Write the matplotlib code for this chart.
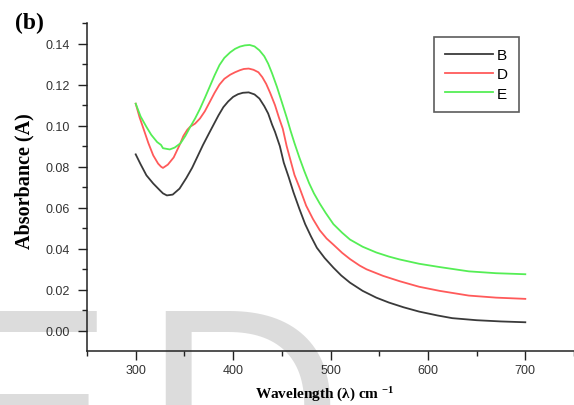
import matplotlib
matplotlib.use('Agg')
import matplotlib.pyplot as plt
from matplotlib.ticker import MultipleLocator

# UV-vis spectra, wavelength in nm
wl_B = [300, 305, 311, 318, 325, 328, 332, 338, 345, 352, 358, 363, 369, 375, 380,
        385, 390, 395, 400, 405, 410, 416, 422, 427, 432, 436, 440, 443, 448, 452,
        457, 462, 468, 474, 480, 486, 494, 503, 511, 520, 533, 547, 560, 575, 591,
        610, 625, 650, 675, 700]
abs_B = [0.0860, 0.0812, 0.0758, 0.0718, 0.0684, 0.0670, 0.0660, 0.0664, 0.0693, 0.0745,
         0.0795, 0.0845, 0.0905, 0.0960, 0.1005, 0.1050, 0.1090, 0.1118, 0.1140, 0.1153,
         0.1160, 0.1162, 0.1152, 0.1132, 0.1095, 0.1059, 0.1005, 0.0970, 0.0900, 0.0820,
         0.0750, 0.0675, 0.0595, 0.0520, 0.0460, 0.0405, 0.0355, 0.0308, 0.0270, 0.0235,
         0.0195, 0.0162, 0.0138, 0.0115, 0.0094, 0.0075, 0.0062, 0.0052, 0.0046, 0.0042]

wl_D = [300, 304, 308, 313, 318, 323, 326, 328, 333, 339, 345, 349, 353, 356, 361,
        366, 371, 376, 381, 386, 391, 397, 402, 407, 411, 416, 421, 426, 430, 434,
        438, 443, 447, 451, 455, 459, 463, 468, 475, 482, 489, 496, 503, 512, 520,
        530, 537, 554, 571, 591, 612, 642, 670, 700]
abs_D = [0.1107, 0.1040, 0.0985, 0.0915, 0.0855, 0.0815, 0.0800, 0.0794, 0.0810, 0.0845,
         0.0905, 0.0950, 0.0980, 0.0995, 0.1010, 0.1035, 0.1070, 0.1115, 0.1160, 0.1200,
         0.1228, 0.1248, 0.1260, 0.1270, 0.1276, 0.1278, 0.1272, 0.1260, 0.1236, 0.1203,
         0.1160, 0.1100, 0.1040, 0.0985, 0.0900, 0.0830, 0.0760, 0.0700, 0.0610, 0.0545,
         0.0490, 0.0450, 0.0420, 0.0380, 0.0350, 0.0318, 0.0300, 0.0268, 0.0242, 0.0215,
         0.0195, 0.0172, 0.0162, 0.0156]

wl_E = [300, 305, 311, 316, 322, 326, 328, 335, 340, 346, 351, 356, 361, 366, 371,
        376, 381, 386, 391, 397, 402, 407, 412, 417, 422, 427, 432, 436, 440, 445,
        450, 455, 459, 463, 468, 473, 478, 483, 489, 495, 503, 512, 520, 533, 547,
        560, 571, 591, 612, 642, 670, 700]
abs_E = [0.1107, 0.1045, 0.0994, 0.0955, 0.0920, 0.0906, 0.0890, 0.0884, 0.0893, 0.0914,
         0.0950, 0.0994, 0.1035, 0.1082, 0.1135, 0.1190, 0.1245, 0.1295, 0.1330, 0.1357,
         0.1374, 0.1385, 0.1391, 0.1393, 0.1386, 0.1367, 0.1338, 0.1302, 0.1255, 0.1189,
         0.1115, 0.1040, 0.0975, 0.0915, 0.0845, 0.0780, 0.0720, 0.0670, 0.0620, 0.0575,
         0.0520, 0.0478, 0.0445, 0.0410, 0.0382, 0.0362, 0.0348, 0.0327, 0.0311, 0.0290,
         0.0281, 0.0276]

plt.rcParams['mathtext.fontset'] = 'custom'
plt.rcParams['mathtext.rm'] = 'Liberation Serif:bold'
plt.rcParams['mathtext.it'] = 'Liberation Serif:bold'
plt.rcParams['mathtext.bf'] = 'Liberation Serif:bold'

fig = plt.figure(figsize=(5.74, 4.06), dpi=100)
fig.patch.set_facecolor('white')

# faint watermark letters behind the plot
wm_y = 1 - 503 / 406
fig.text(-72 / 574, wm_y, 'E', fontsize=200, family='Liberation Sans',
         color='#dcdcdc', ha='left', va='baseline', zorder=-5)
fig.text(142 / 574, wm_y, 'D', fontsize=200, family='Liberation Sans',
         color='#dcdcdc', ha='left', va='baseline', zorder=-5)

ax = fig.add_axes([87 / 574, 1 - 352 / 406, 487 / 574, 328 / 406])
ax.set_facecolor('none')

ax.plot(wl_B, abs_B, color='#3a3a3a', lw=1.3, label='B')
ax.plot(wl_D, abs_D, color='#ff5a5a', lw=1.3, label='D')
ax.plot(wl_E, abs_E, color='#55ee55', lw=1.3, label='E')

ax.set_xlim(250, 750)
ax.set_ylim(-0.0098, 0.150)
ax.xaxis.set_major_locator(MultipleLocator(100))
ax.xaxis.set_minor_locator(MultipleLocator(50))
ax.yaxis.set_major_locator(MultipleLocator(0.02))
ax.yaxis.set_minor_locator(MultipleLocator(0.01))
ax.yaxis.set_major_formatter(plt.FormatStrFormatter('%.2f'))

for s in ['top', 'right']:
    ax.spines[s].set_visible(False)
for s in ['left', 'bottom']:
    ax.spines[s].set_linewidth(1.1)
    ax.spines[s].set_color('#222222')

ax.tick_params(which='major', direction='out', length=6.3, width=1.0, color='#222222',
               labelsize=9, labelcolor='#333333')
ax.tick_params(which='minor', direction='out', length=3.6, width=1.0, color='#222222')
ax.tick_params(axis='y', which='major', pad=6)
ax.tick_params(axis='x', which='major', pad=3)
for lab in ax.get_xticklabels() + ax.get_yticklabels():
    lab.set_family('Liberation Sans')

ax.set_ylabel('Absorbance (A)', family='Liberation Serif', fontweight='bold', fontsize=14.5)
ax.yaxis.label.set_va('center')
ax.yaxis.set_label_coords((24 - 87) / 487, (352 - 181) / 328)
ax.set_xlabel('Wavelength (λ) cm $^{-1}$', family='Liberation Serif',
              fontweight='bold', fontsize=11)
ax.xaxis.label.set_va('center')
ax.xaxis.set_label_coords((325 - 87) / 487, -(395 - 352) / 328)

fig.text(15 / 574, 1 - 23 / 406, '(b)', family='Liberation Serif', fontweight='bold',
         fontsize=17, ha='left', va='center')

leg = ax.legend(loc='upper right', bbox_to_anchor=((519 - 87) / 487, (352 - 38) / 328),
                borderaxespad=0, fancybox=False, handlelength=3.1, handletextpad=0.25,
                labelspacing=0.33, borderpad=0.75, prop={'family': 'Liberation Sans', 'size': 11})
leg.get_frame().set_edgecolor('#333333')
leg.get_frame().set_linewidth(1.2)

fig.savefig('out.png', dpi=100)
